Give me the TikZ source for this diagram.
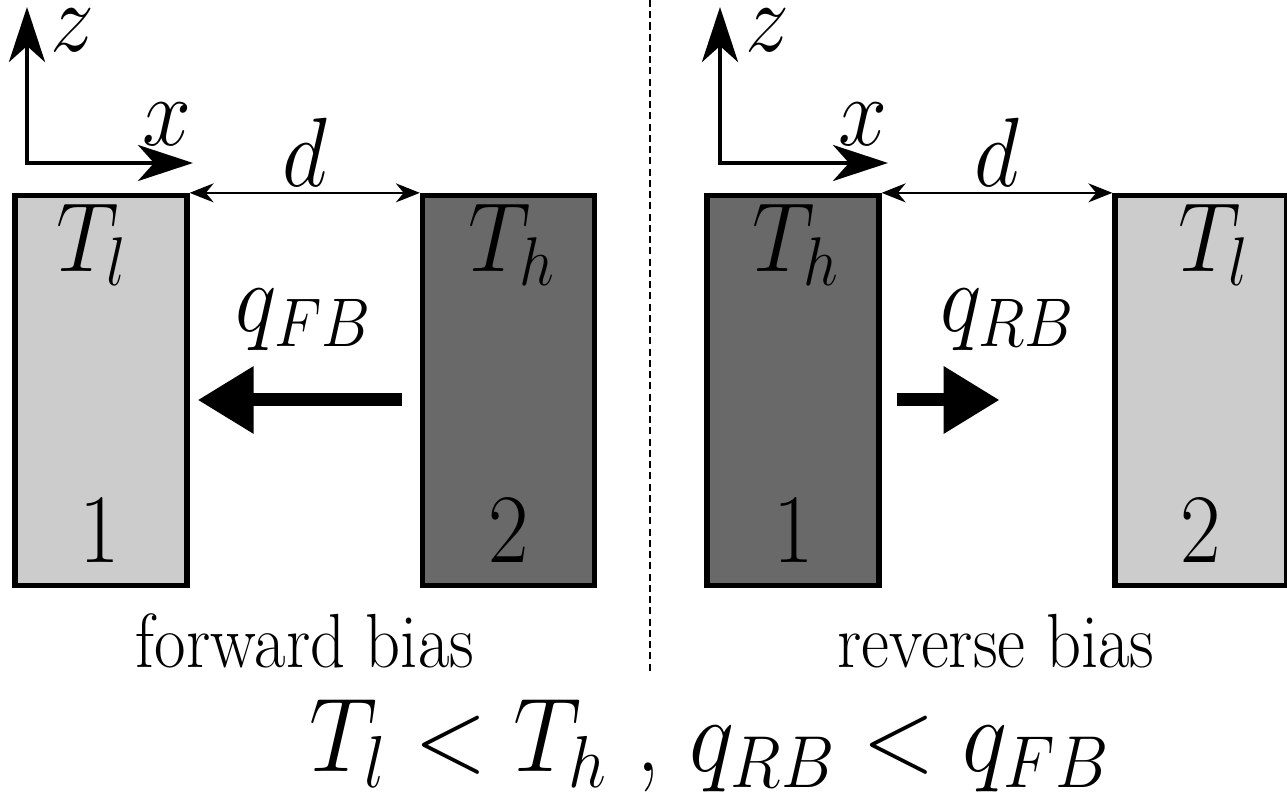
\RequirePackage{fix-cm}
\documentclass[tikz,border=0pt]{standalone}
\usetikzlibrary{arrows.meta}
\begin{document}
\begin{tikzpicture}[
  slab/.style={draw, line width=1.5pt, minimum width=1.72cm, minimum height=3.90cm, inner sep=0pt},
  cold/.style={slab, fill=black!20},
  hot/.style={slab, fill=black!59},
  lbl/.style={font=\fontsize{25}{30}\selectfont, inner sep=0pt, yscale=1.12},
  axes/.style={line width=1.2pt, {Stealth[length=5.5mm, width=3.6mm, inset=1.6mm]}-{Stealth[length=5.5mm, width=3.6mm, inset=1.6mm]}},
  gap/.style={line width=0.6pt, {Stealth[length=2.4mm, width=1.9mm]}-{Stealth[length=2.4mm, width=1.9mm]}},
  flux/.style={line width=3.7pt, -{Triangle[length=5.6mm, width=6.4mm]}},
  caption/.style={font=\fontsize{19.5}{24}\selectfont, inner sep=0pt, yscale=1.12},
  divider/.style={line width=0.8pt, dash pattern=on 2pt off 1.2pt}
]
  \useasboundingbox (0,0) rectangle (12.87,-7.92);

  % Forward bias (left)
  \begin{scope}
    \coordinate (z1) at (0.27,-0.07);
    \coordinate (o1) at (0.27,-1.63);
    \coordinate (x1) at (1.93,-1.63);
    \draw[axes] (z1) -- (o1) -- (x1);
    \node[lbl] (zl1) at (0.72,-0.30) {$z$};
    \node[lbl] (xl1) at (1.67,-1.24) {$x$};

    \node[cold] (a1) at (1.01,-3.905) {};
    \node[hot] (a2) at (5.085,-3.905) {};
    \draw[gap] (a1.north east) -- (a2.north west) node[midway, lbl, above=0.5mm] (d1) {$d$};

    \node[lbl, anchor=north] (ta1) at (0.92,-2.03) {$T_l$};
    \node[lbl, anchor=north] (ta2) at (5.12,-2.03) {$T_h$};
    \node[lbl, anchor=base] (q1) at (3.04,-3.32) {$q_{FB}$};
    \draw[flux] ([shift={(-0.18,-0.095)}]a2.west) -- ([shift={(0.08,-0.095)}]a1.east);

    \node[lbl, anchor=base] (na1) at (1.00,-5.63) {$1$};
    \node[lbl, anchor=base] (na2) at (5.09,-5.63) {$2$};
    \node[caption, anchor=base] (fb) at (3.05,-6.68) {forward bias};
  \end{scope}

  % Trennlinie
  \coordinate (top) at (6.50,0);
  \coordinate (bot) at (6.50,-6.72);
  \draw[divider] (top) -- (bot);

  % Reverse bias (right)
  \begin{scope}[shift={(6.92,0)}]
    \coordinate (z2) at (0.28,-0.07);
    \coordinate (o2) at (0.28,-1.63);
    \coordinate (x2) at (1.96,-1.63);
    \draw[axes] (z2) -- (o2) -- (x2);
    \node[lbl] (zl2) at (0.75,-0.30) {$z$};
    \node[lbl] (xl2) at (1.71,-1.24) {$x$};

    \node[hot] (b1) at (1.01,-3.905) {};
    \node[cold] (b2) at (5.09,-3.905) {};
    \draw[gap] (b1.north east) -- (b2.north west) node[midway, lbl, above=0.5mm] (d2) {$d$};

    \node[lbl, anchor=north] (tb1) at (1.04,-2.03) {$T_h$};
    \node[lbl, anchor=north] (tb2) at (5.22,-2.03) {$T_l$};
    \node[lbl, anchor=base] (q2) at (3.16,-3.32) {$q_{RB}$};
    \draw[flux] ([shift={(0.15,-0.095)}]b1.east) -- ([shift={(1.18,-0.095)}]b1.east);

    \node[lbl, anchor=base] (nb1) at (1.02,-5.63) {$1$};
    \node[lbl, anchor=base] (nb2) at (5.09,-5.63) {$2$};
    \node[caption, anchor=base] (rb) at (3.04,-6.68) {reverse bias};
  \end{scope}

  \node[font=\fontsize{27.2}{32}\selectfont, inner sep=0pt, yscale=1.1, anchor=base] (rel) at (7.10,-7.72) {$T_l < T_h$ , $q_{RB} < q_{FB}$};
\end{tikzpicture}
\end{document}
